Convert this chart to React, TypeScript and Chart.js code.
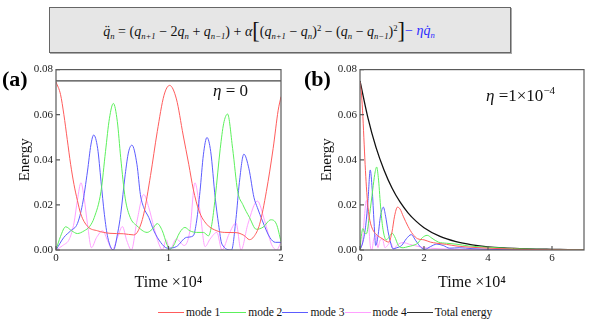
import React, { useEffect, useRef } from "react";
import { Chart, registerables } from "chart.js";
Chart.register(...registerables);

// ---------- data: panel (a), eta = 0 (time in units of 10^4) ----------
const A_M1_T = [0, 0.04, 0.07, 0.1, 0.13, 0.16, 0.19, 0.22, 0.28, 0.37, 0.48, 0.6, 0.69, 0.73, 0.78, 0.84, 0.9, 0.96, 1.01, 1.07, 1.13, 1.18, 1.22, 1.27, 1.34, 1.43, 1.5, 1.6, 1.67, 1.72, 1.76, 1.81, 1.87, 1.93, 1.975, 2.0];
const A_M1_E = [0.0745, 0.069, 0.06, 0.049, 0.038, 0.029, 0.022, 0.016, 0.0105, 0.0085, 0.0074, 0.0072, 0.0067, 0.0085, 0.016, 0.033, 0.0525, 0.0686, 0.073, 0.067, 0.051, 0.038, 0.027, 0.0175, 0.0114, 0.0085, 0.0078, 0.0077, 0.0065, 0.0046, 0.006, 0.0114, 0.026, 0.045, 0.062, 0.068];

const A_M2_T = [0, 0.04, 0.086, 0.14, 0.19, 0.25, 0.3, 0.34, 0.4, 0.44, 0.475, 0.51, 0.545, 0.575, 0.615, 0.66, 0.72, 0.81, 0.855, 0.9, 0.945, 0.985, 1.01, 1.04, 1.1, 1.146, 1.19, 1.25, 1.31, 1.355, 1.385, 1.415, 1.46, 1.49, 1.525, 1.57, 1.615, 1.66, 1.72, 1.78, 1.84, 1.91, 1.96, 2.0];
const A_M2_E = [0, 0.006, 0.0103, 0.0085, 0.0073, 0.0085, 0.0105, 0.0144, 0.026, 0.0437, 0.0584, 0.065, 0.057, 0.041, 0.023, 0.0144, 0.0107, 0.0078, 0.0092, 0.0117, 0.0085, 0.0026, 0.0003, 0.0015, 0.0078, 0.01, 0.0085, 0.0078, 0.0078, 0.0063, 0.0114, 0.0232, 0.045, 0.056, 0.0603, 0.045, 0.026, 0.0202, 0.0144, 0.0092, 0.0101, 0.0134, 0.0114, 0.0037];

const A_M3_T = [0, 0.07, 0.13, 0.19, 0.235, 0.28, 0.31, 0.335, 0.37, 0.4, 0.43, 0.46, 0.51, 0.55, 0.575, 0.615, 0.645, 0.675, 0.72, 0.75, 0.78, 0.825, 0.87, 0.93, 0.99, 1.07, 1.16, 1.22, 1.25, 1.28, 1.31, 1.342, 1.375, 1.415, 1.445, 1.475, 1.56, 1.6, 1.63, 1.67, 1.715, 1.76, 1.79, 1.835, 1.9, 1.95, 2.0];
const A_M3_E = [0, 0.0056, 0.0085, 0.0117, 0.0202, 0.035, 0.0466, 0.051, 0.0451, 0.0305, 0.0158, 0.0056, 0, 0.008, 0.0158, 0.0334, 0.0435, 0.0465, 0.0378, 0.0246, 0.0188, 0.0144, 0.0085, 0.0034, 0.0008, 0.0015, 0.0056, 0.0063, 0.0129, 0.026, 0.0422, 0.0499, 0.0437, 0.0232, 0.0114, 0.0026, 0, 0.014, 0.03, 0.0425, 0.036, 0.0232, 0.0188, 0.0129, 0.0056, 0.0034, 0.0034];

const A_M4_T = [0, 0.06, 0.12, 0.16, 0.19, 0.222, 0.25, 0.28, 0.315, 0.36, 0.415, 0.46, 0.5, 0.55, 0.59, 0.63, 0.67, 0.72, 0.78, 0.825, 0.87, 0.915, 0.945, 0.98, 1.01, 1.07, 1.14, 1.19, 1.235, 1.28, 1.325, 1.37, 1.43, 1.475, 1.54, 1.6, 1.645, 1.705, 1.79, 1.855, 1.915, 1.96, 2.0];
const A_M4_E = [0, 0.002, 0.005, 0.012, 0.022, 0.0298, 0.023, 0.0114, 0.001, 0.0055, 0.0085, 0.004, 0, 0.006, 0.0104, 0.004, 0, 0.0129, 0.0246, 0.0188, 0.0101, 0.0026, 0, 0.0045, 0, 0.0049, 0.002, 0.0085, 0.0298, 0.0173, 0.0015, 0.0049, 0.0078, 0, 0.0073, 0.012, 0, 0.0114, 0.0217, 0.0129, 0.0026, 0, 0.0035];

const A_TOT_T = [0, 2];
const A_TOT_E = [0.075, 0.075];

// ---------- data: panel (b), eta = 1e-4 ----------
const B_M1_T = [0, 0.04, 0.08, 0.12, 0.16, 0.2, 0.25, 0.31, 0.4, 0.5, 0.7, 0.9, 1.0, 1.08, 1.17, 1.25, 1.35, 1.5, 1.65, 1.8, 2.0, 2.2, 2.4, 2.7, 3.0, 3.5, 4.0, 5.0, 6.0, 7.0];
const B_M1_E = [0.0745, 0.07, 0.062, 0.05, 0.038, 0.028, 0.019, 0.013, 0.009, 0.007, 0.005, 0.0035, 0.008, 0.015, 0.019, 0.0182, 0.015, 0.0105, 0.007, 0.005, 0.0045, 0.0035, 0.003, 0.0025, 0.0018, 0.0012, 0.0008, 0.0003, 0.0001, 0];

const B_M2_T = [0, 0.04, 0.09, 0.15, 0.2, 0.3, 0.4, 0.46, 0.52, 0.58, 0.65, 0.72, 0.82, 0.92, 1.0, 1.08, 1.2, 1.35, 1.5, 1.65, 1.8, 1.95, 2.1, 2.25, 2.45, 2.7, 3.0, 3.4, 4.0, 4.8, 5.5, 7.0];
const B_M2_E = [0, 0.006, 0.0095, 0.0075, 0.0072, 0.0158, 0.027, 0.0335, 0.0368, 0.031, 0.018, 0.009, 0.0045, 0.006, 0.0075, 0.006, 0.002, 0.001, 0.0015, 0.002, 0.003, 0.0055, 0.0065, 0.0052, 0.0035, 0.003, 0.0026, 0.0018, 0.0012, 0.0006, 0.0003, 0.0001];

const B_M3_T = [0, 0.1, 0.18, 0.25, 0.32, 0.38, 0.44, 0.49, 0.56, 0.64, 0.73, 0.8, 0.88, 0.96, 1.03, 1.15, 1.3, 1.45, 1.6, 1.75, 1.9, 2.03, 2.2, 2.4, 2.6, 2.8, 3.1, 3.5, 4.0, 5.0, 7.0];
const B_M3_E = [0, 0.004, 0.011, 0.022, 0.0355, 0.027, 0.012, 0.002, 0.006, 0.015, 0.019, 0.015, 0.008, 0.003, 0.0005, 0.001, 0.002, 0.005, 0.0068, 0.004, 0.0012, 0.0003, 0.0015, 0.0026, 0.002, 0.0008, 0.001, 0.0006, 0.0003, 0.0001, 0];

const B_M4_T = [0, 0.08, 0.14, 0.2, 0.26, 0.32, 0.37, 0.43, 0.5, 0.56, 0.62, 0.7, 0.78, 0.86, 0.95, 1.05, 1.15, 1.25, 1.35, 1.45, 1.55, 1.7, 1.85, 2.0, 2.2, 2.5, 3.0, 4.0, 5.0, 7.0];
const B_M4_E = [0, 0.004, 0.015, 0.022, 0.014, 0.002, 0, 0.005, 0.0065, 0.001, 0.004, 0.005, 0.001, 0.002, 0.0035, 0.0005, 0.002, 0.003, 0.0033, 0.003, 0.0025, 0.002, 0.0015, 0.001, 0.0008, 0.0005, 0.0003, 0.0001, 0, 0];

const B_TOT_T = [0, 0.25, 0.5, 0.75, 1, 1.25, 1.5, 1.75, 2, 2.5, 3, 3.5, 4, 4.5, 5, 5.5, 6, 6.5, 7];
const B_TOT_E = [0.075, 0.0585, 0.0455, 0.0355, 0.0275, 0.0213, 0.0165, 0.0128, 0.0099, 0.006, 0.0037, 0.0023, 0.0014, 0.0009, 0.0006, 0.0004, 0.0003, 0.0002, 0.0001];

const Y_TICKS = [0, 0.02, 0.04, 0.06, 0.08];
const A_X_TICKS = [0, 1, 2];
const B_X_TICKS = [0, 2, 4, 6];
const SERIES_LABELS = ["mode 1", "mode 2", "mode 3", "mode 4", "Total energy"];
const COLORS = ["#ff5c5c", "#5cf05c", "#5c5cff", "#ffa0ff", "#333333"];

const SERIF = "'Liberation Serif', 'Times New Roman', serif";

const pts = (t: number[], e: number[]) => t.map((x, i) => ({ x, y: e[i] }));

const framePlugin = {
  id: "frame",
  afterDatasetsDraw(chart: any) {
    const { ctx, chartArea: a, scales } = chart;
    ctx.save();
    ctx.strokeStyle = "#5a5a5a";
    ctx.lineWidth = 1.2;
    ctx.strokeRect(a.left, a.top, a.right - a.left, a.bottom - a.top);
    ctx.beginPath();
    scales.x.ticks.forEach((t: any) => {
      const px = scales.x.getPixelForValue(t.value);
      ctx.moveTo(px, a.bottom);
      ctx.lineTo(px, a.bottom - 4);
    });
    scales.y.ticks.forEach((t: any) => {
      const py = scales.y.getPixelForValue(t.value);
      ctx.moveTo(a.left, py);
      ctx.lineTo(a.left + 4, py);
    });
    ctx.stroke();
    ctx.restore();
  },
};

type PanelProps = {
  series: { t: number[]; e: number[] }[];
  xMax: number;
  xTicks: number[];
  padLeft: number;
  yWidth: number;
  padRight: number;
  width: number;
  height: number;
  xHeight: number;
  totalColor: string;
};

function Panel(p: PanelProps) {
  const ref = useRef<HTMLCanvasElement | null>(null);
  useEffect(() => {
    if (!ref.current) return;
    const chart = new Chart(ref.current, {
      type: "line",
      data: {
        datasets: p.series.map((s, i) => ({
          label: SERIES_LABELS[i],
          data: pts(s.t, s.e),
          borderColor: i === 4 ? p.totalColor : COLORS[i],
          borderWidth: i === 4 ? 1.3 : 1,
          pointRadius: 0,
          fill: false,
          cubicInterpolationMode: "monotone",
        })),
      },
      options: {
        animation: false,
        responsive: false,
        maintainAspectRatio: false,
        layout: { padding: { left: p.padLeft, right: p.padRight, top: 8, bottom: 0 } },
        plugins: { legend: { display: false }, tooltip: { enabled: false } },
        scales: {
          x: {
            type: "linear",
            min: 0,
            max: p.xMax,
            grid: { display: false, drawTicks: false },
            border: { display: false },
            afterBuildTicks: (s: any) => {
              s.ticks = p.xTicks.map((v) => ({ value: v }));
            },
            afterFit: (s: any) => {
              s.height = p.xHeight;
            },
            ticks: {
              padding: 2,
              color: "#222",
              font: { family: SERIF, size: 11 },
              maxRotation: 0,
              callback: (v: any) => String(v),
            },
            title: {
              display: true,
              text: "Time ×10⁴",
              color: "#111",
              font: { family: SERIF, size: 16 },
              padding: { top: 0, bottom: 4 },
            },
          },
          y: {
            min: 0,
            max: 0.08,
            grid: { display: false, drawTicks: false },
            border: { display: false },
            afterBuildTicks: (s: any) => {
              s.ticks = Y_TICKS.map((v) => ({ value: v }));
            },
            afterFit: (s: any) => {
              s.width = p.yWidth;
            },
            ticks: {
              padding: 3,
              color: "#222",
              font: { family: SERIF, size: 11 },
              callback: (v: any) => Number(v).toFixed(2),
            },
            title: {
              display: true,
              text: "Energy",
              color: "#111",
              font: { family: SERIF, size: 15 },
              padding: { top: 4, bottom: 0 },
            },
          },
        },
      },
      plugins: [framePlugin],
    } as any);
    return () => chart.destroy();
  }, []);
  return <canvas ref={ref} width={p.width} height={p.height} style={{ width: p.width, height: p.height, display: "block" }} />;
}

const sub = (s: string) => <sub style={{ fontSize: "0.62em", verticalAlign: "-0.35em", fontStyle: "italic" }}>{s}</sub>;
const sup = (s: string) => <sup style={{ fontSize: "0.62em", verticalAlign: "0.55em" }}>{s}</sup>;
const q = (mark?: string) => <i>{"q" + (mark || "")}</i>;

export default function App() {
  const seriesA = [
    { t: A_M1_T, e: A_M1_E },
    { t: A_M2_T, e: A_M2_E },
    { t: A_M3_T, e: A_M3_E },
    { t: A_M4_T, e: A_M4_E },
    { t: A_TOT_T, e: A_TOT_E },
  ];
  const seriesB = [
    { t: B_M1_T, e: B_M1_E },
    { t: B_M2_T, e: B_M2_E },
    { t: B_M3_T, e: B_M3_E },
    { t: B_M4_T, e: B_M4_E },
    { t: B_TOT_T, e: B_TOT_E },
  ];
  const big = { fontSize: "1.6em", lineHeight: "0", verticalAlign: "-0.12em", fontWeight: 300 } as React.CSSProperties;
  return (
    <div style={{ position: "absolute", left: 0, top: 0, width: 594, height: 331, background: "#fff", fontFamily: SERIF, overflow: "hidden" }}>
      {/* equation box */}
      <div
        style={{
          position: "absolute",
          left: 49,
          top: 7,
          width: 462,
          height: 46,
          background: "#e6e6e6",
          border: "1px solid #666",
          boxShadow: "1px 1px 0 #aaa",
          display: "flex",
          alignItems: "center",
          justifyContent: "center",
          fontSize: 14,
          color: "#111",
          whiteSpace: "nowrap",
          paddingRight: 22,
          paddingTop: 3,
          boxSizing: "border-box",
        }}
      >
        <span>
          {q("\u0308")}
          {sub("n")} = ({q()}
          {sub("n+1")} − 2{q()}
          {sub("n")} + {q()}
          {sub("n−1")}) + <i>α</i>
          <span style={big}>[</span>({q()}
          {sub("n+1")} − {q()}
          {sub("n")})
          {sup("2")} − ({q()}
          {sub("n")} − {q()}
          {sub("n−1")})
          {sup("2")}
          <span style={big}>]</span>
          <span style={{ color: "#2a2aff" }}>
            − <i>η</i>
            {q("\u0307")}
            {sub("n")}
          </span>
        </span>
      </div>

      {/* panels */}
      <div style={{ position: "absolute", left: 0, top: 60 }}>
        <Panel series={seriesA} xMax={2} xTicks={A_X_TICKS} padLeft={12} yWidth={44} padRight={16} width={297} height={236} xHeight={46} totalColor="#444444" />
      </div>
      <div style={{ position: "absolute", left: 300, top: 60 }}>
        <Panel series={seriesB} xMax={7} xTicks={B_X_TICKS} padLeft={14} yWidth={46} padRight={10} width={294} height={236} xHeight={46} totalColor="#111111" />
      </div>

      {/* panel labels and annotations */}
      <div style={{ position: "absolute", left: 2, top: 66, fontSize: 22, fontWeight: "bold", lineHeight: "26px" }}>(a)</div>
      <div style={{ position: "absolute", left: 304, top: 66, fontSize: 22, fontWeight: "bold", lineHeight: "26px" }}>(b)</div>
      <div style={{ position: "absolute", left: 213, top: 81, fontSize: 17, lineHeight: "20px", color: "#111", whiteSpace: "nowrap" }}>
        <i>η</i> = 0
      </div>
      <div style={{ position: "absolute", left: 486, top: 80, fontSize: 17, lineHeight: "20px", color: "#111", whiteSpace: "nowrap" }}>
        <i>η</i> =1×10<sup style={{ fontSize: "0.65em", verticalAlign: "0.6em" }}>−4</sup>
      </div>

      {/* legend */}
      <div style={{ position: "absolute", left: 158, top: 305, display: "flex", alignItems: "center", fontSize: 11.5, lineHeight: "14px", color: "#111", whiteSpace: "nowrap" }}>
        {SERIES_LABELS.map((lab, i) => (
          <span key={lab} style={{ display: "inline-flex", alignItems: "center" }}>
            <span style={{ display: "inline-block", width: 26, height: 0, borderTop: `1.3px solid ${i === 4 ? "#333" : COLORS[i]}`, marginRight: 2 }} />
            <span>{lab}</span>
          </span>
        ))}
      </div>
    </div>
  );
}
